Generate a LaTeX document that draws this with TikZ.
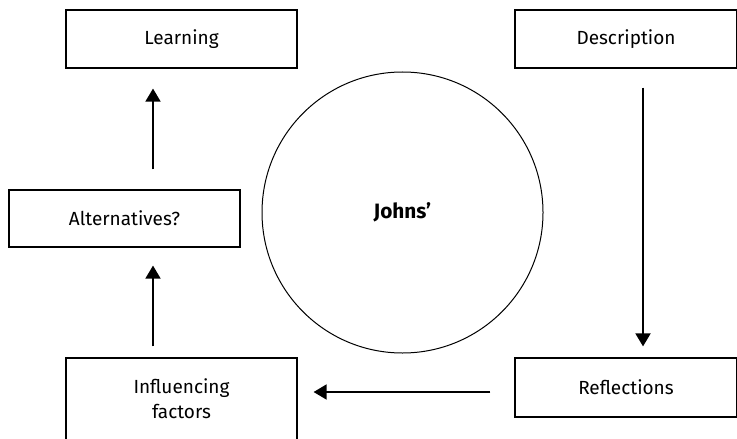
\documentclass[tikz,border=0pt]{standalone}
\usepackage{fontspec}
\setmainfont{Fira Sans}
\usetikzlibrary{arrows.meta, positioning}

\begin{document}
\begin{tikzpicture}[x=0.5pt,y=-0.5pt,>={Triangle[length=6.5pt,width=7.5pt]},
        stage/.style={draw=black,line width=0.6pt,minimum width=115.5pt,align=center,font=\fontsize{9.5}{12.5}\selectfont},
        centre/.style={draw=black,line width=0.5pt,circle,minimum size=140.5pt,font=\fontsize{10.4}{12}\selectfont\bfseries},
        flow/.style={->,line width=0.9pt}]

        \useasboundingbox (0,0) rectangle (737,438);

        \node[stage,minimum height=29pt] (learn) at (181.5,39) {Learning};
        \node[stage,minimum height=29pt,minimum width=111pt] (desc) at (626,39) {Description};
        \node[stage,minimum height=28.5pt] (alt) at (124.5,218.5) {Alternatives?};
        \node[stage,minimum height=41pt] (infl) at (181.5,399) {Influencing\\factors};
        \node[stage,minimum height=29.5pt,minimum width=111pt] (refl) at (626,387.5) {Reflections};
        \node[centre] (johns) at (402.5,212.5) {Johns’};

        \coordinate (lx) at (153,0);
        \coordinate (ry) at (0,392);

        \draw[flow,shorten <=10pt,shorten >=10pt] (alt.north -| lx) -- (learn.south -| lx);
        \draw[flow,shorten <=5.5pt,shorten >=9pt] (infl.north -| lx) -- (alt.south -| lx);
        \draw[flow,shorten <=9.5pt,shorten >=5.5pt] ([xshift=8.5pt]desc.south) -- ([xshift=8.5pt]refl.north);
        \draw[flow,shorten <=12pt,shorten >=8pt] (refl.west |- ry) -- (infl.east |- ry);
\end{tikzpicture}
\end{document}
